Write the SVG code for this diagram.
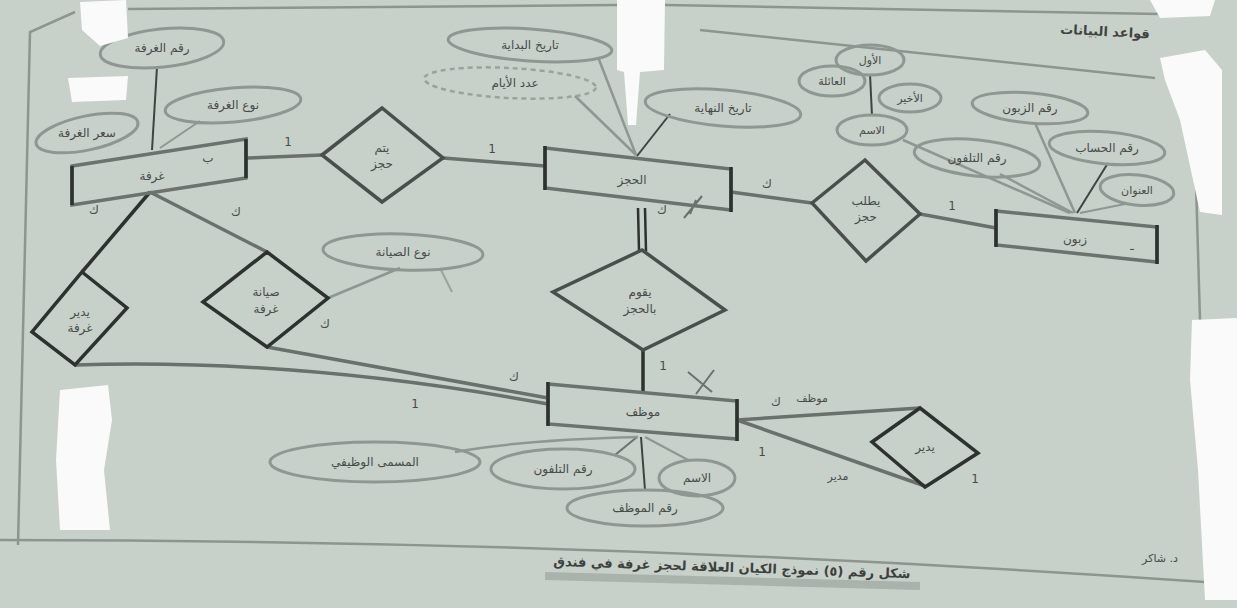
<svg xmlns="http://www.w3.org/2000/svg" width="1237" height="608" viewBox="0 0 1237 608">
<style>
.bg{fill:#c8d0ca}
.pg{fill:none;stroke:#8d958f;stroke-width:2.5}
.ent{fill:none;stroke:#6c726e;stroke-width:3.5}
.edge{stroke:#2e322f;stroke-width:3.5}
.rel{fill:none;stroke:#4a4f4c;stroke-width:3.5}
.att{fill:none;stroke:#8f9792;stroke-width:3}
.dash{fill:none;stroke:#9aa29d;stroke-width:2.5;stroke-dasharray:5 4}
.ln{fill:none;stroke:#6b716d;stroke-width:2}
.lnk{fill:none;stroke:#6a706c;stroke-width:3.5}
.t{font-family:"DejaVu Sans",sans-serif;font-size:12px;fill:#474c49;text-anchor:middle}
.tb{font-family:"DejaVu Sans",sans-serif;font-size:13px;fill:#3f4441;text-anchor:middle;font-weight:bold}
.c{font-family:"DejaVu Sans",sans-serif;font-size:13px;fill:#3c413e;text-anchor:middle}
.w{fill:#fafafa}
</style>
<rect class="bg" x="0" y="0" width="1237" height="608"/>

<g id="page">
<path class="pg" d="M75 12 L30 32 L18 545"/>
<path class="pg" d="M128 9 L617 5"/>
<path class="pg" d="M665 5 L1160 14"/>
<path class="pg" d="M700 30 L1155 78"/>
<path class="pg" d="M1193 80 L1200 320"/>
<path class="pg" d="M0 540 Q600 540 1205 582"/>
<text class="tb" x="1105" y="36" transform="rotate(3 1105 32)">قواعد البيانات</text>
</g>

<g id="connectors">
<line class="lnk" x1="247" y1="158" x2="322" y2="155"/>
<line class="lnk" x1="443" y1="158" x2="545" y2="166"/>
<line class="lnk" x1="731" y1="192" x2="812" y2="203"/>
<line class="lnk" x1="920" y1="214" x2="996" y2="228"/>
<line class="edge" x1="638" y1="208" x2="639" y2="251" style="stroke-width:2.5"/>
<line class="edge" x1="645" y1="208" x2="646" y2="251" style="stroke-width:2.5"/>
<line class="edge" x1="643" y1="350" x2="643" y2="392"/>
<line class="edge" x1="150" y1="192" x2="82" y2="272"/>
<line class="lnk" x1="150" y1="192" x2="267" y2="252"/>
<path class="lnk" d="M267 347 L548 398"/>
<path class="lnk" d="M75 365 Q300 358 548 404"/>
<line class="ln" x1="328" y1="298" x2="400" y2="268" style="stroke:#8f9792;stroke-width:2.5"/>
<path class="ln" d="M440 268 L452 292" style="stroke:#9aa29d"/>
<line class="lnk" x1="737" y1="420" x2="920" y2="408"/>
<line class="lnk" x1="737" y1="420" x2="925" y2="486"/>
<line class="ln" x1="157" y1="67" x2="152" y2="150" style="stroke:#3f4441"/>
<line class="ln" x1="200" y1="121" x2="160" y2="148" style="stroke:#8f9792"/>
<line class="ln" x1="598" y1="57" x2="636" y2="155" style="stroke:#8f9792;stroke-width:2.5"/>
<line class="ln" x1="575" y1="96" x2="636" y2="155" style="stroke:#8f9792;stroke-width:2.5"/>
<line class="ln" x1="670" y1="114" x2="637" y2="156" style="stroke:#3f4441"/>
<line class="ln" x1="1035" y1="123" x2="1075" y2="213" style="stroke:#8f9792;stroke-width:2.5"/>
<line class="ln" x1="1108" y1="163" x2="1077" y2="213" style="stroke:#3f4441"/>
<line class="ln" x1="1125" y1="204" x2="1080" y2="213" style="stroke:#8f9792"/>
<line class="ln" x1="1000" y1="174" x2="1073" y2="213" style="stroke:#8f9792;stroke-width:2.5"/>
<line class="ln" x1="903" y1="140" x2="1070" y2="213" style="stroke:#8f9792;stroke-width:2.5"/>
<line class="ln" x1="870" y1="74" x2="872" y2="116" style="stroke:#3f4441"/>
<line class="ln" x1="641" y1="437" x2="645" y2="490" style="stroke:#3f4441"/>
<line class="ln" x1="637" y1="437" x2="615" y2="455" style="stroke:#6b716d"/>
<line class="ln" x1="645" y1="437" x2="690" y2="461" style="stroke:#8f9792"/>
<path class="ln" d="M638 437 Q520 440 455 452" style="stroke:#8f9792;stroke-width:2.5"/>
<path class="ln" d="M684 218 L702 196 M696 200 L690 214" style="stroke:#6b716d"/>
<path class="ln" d="M688 372 L712 392 M714 370 L696 394" style="stroke:#6b716d"/>
</g>

<g id="cards">
<text class="t" x="288" y="146">1</text>
<text class="t" x="492" y="153">1</text>
<text class="t" x="767" y="188">ك</text>
<text class="t" x="952" y="210">1</text>
<text class="t" x="662" y="214">ك</text>
<text class="t" x="663" y="370">1</text>
<text class="t" x="94" y="214">ك</text>
<text class="t" x="236" y="216">ك</text>
<text class="t" x="514" y="381">ك</text>
<text class="t" x="415" y="408">1</text>
<text class="t" x="762" y="456">1</text>
<text class="t" x="975" y="483">1</text>
<text class="t" x="208" y="162">ب</text>
<text class="t" x="325" y="328">ك</text>
<text class="t" x="776" y="406">ك</text>
<text class="t" x="812" y="402" style="font-size:11px">موظف</text>
<text class="t" x="838" y="480" style="font-size:11px">مدير</text>
</g>

<g id="room">
<polygon class="ent" points="72,166 246,139 246,178 72,205"/>
<line class="edge" x1="72" y1="166" x2="72" y2="205"/>
<line class="edge" x1="246" y1="139" x2="246" y2="178"/>
<text class="t" x="152" y="180">غرفة</text>
</g>
<g id="booking">
<polygon class="ent" points="545,148 731,169 731,210 545,188"/>
<line class="edge" x1="545" y1="146" x2="545" y2="190"/>
<line class="edge" x1="731" y1="167" x2="731" y2="212"/>
<text class="t" x="632" y="184">الحجز</text>
</g>
<g id="customer">
<polygon class="ent" points="996,211 1157,227 1157,262 996,245"/>
<line class="edge" x1="996" y1="209" x2="996" y2="247"/>
<line class="edge" x1="1157" y1="225" x2="1157" y2="264"/>
<text class="t" x="1075" y="243">زبون</text>
<text class="t" x="1132" y="250">ـ</text>
</g>
<g id="employee">
<polygon class="ent" points="548,384 737,401 737,439 548,424"/>
<line class="edge" x1="548" y1="382" x2="548" y2="426"/>
<line class="edge" x1="737" y1="399" x2="737" y2="441"/>
<text class="t" x="643" y="416">موظف</text>
</g>

<g id="r-booked">
<polygon class="rel" points="322,155 382,108 443,158 382,202"/>
<text class="t" x="382" y="152">يتم</text>
<text class="t" x="382" y="168">حجز</text>
</g>
<g id="r-request">
<polygon class="rel" points="812,203 865,160 920,214 866,261"/>
<text class="t" x="866" y="205">يطلب</text>
<text class="t" x="866" y="221">حجز</text>
</g>
<g id="r-do">
<polygon class="rel" points="642,250 725,310 643,350 553,292"/>
<text class="t" x="640" y="296">يقوم</text>
<text class="t" x="640" y="313">بالحجز</text>
</g>
<g id="r-manage-room">
<polygon class="rel" points="82,272 127,308 75,365 32,332" style="stroke:#2e322f"/>
<text class="t" x="80" y="316">يدير</text>
<text class="t" x="80" y="332">غرفة</text>
</g>
<g id="r-maint">
<polygon class="rel" points="267,252 328,298 267,347 203,302" style="stroke:#2e322f"/>
<text class="t" x="266" y="296">صيانة</text>
<text class="t" x="266" y="313">غرفة</text>
</g>
<g id="r-manage">
<polygon class="rel" points="920,408 978,453 925,487 872,442" style="stroke:#2e322f"/>
<text class="t" x="925" y="451">يدير</text>
</g>

<g id="a-room-no"><ellipse class="att" cx="162" cy="48" rx="62" ry="19" transform="rotate(-6 162 48)"/><text class="t" x="162" y="52">رقم الغرفة</text></g>
<g id="a-room-type"><ellipse class="att" cx="233" cy="105" rx="68" ry="17" transform="rotate(-5 233 105)"/><text class="t" x="233" y="109">نوع الغرفة</text></g>
<g id="a-room-price"><ellipse class="att" cx="87" cy="133" rx="52" ry="17" transform="rotate(-12 87 133)"/><text class="t" x="87" y="137">سعر الغرفة</text></g>
<g id="a-start"><ellipse class="att" cx="530" cy="45" rx="82" ry="16" transform="rotate(4 530 45)"/><text class="t" x="530" y="49">تاريخ البداية</text></g>
<g id="a-days"><ellipse class="dash" cx="510" cy="83" rx="86" ry="15" transform="rotate(3 510 83)"/><text class="t" x="515" y="87">عدد الأيام</text></g>
<g id="a-end"><ellipse class="att" cx="723" cy="108" rx="78" ry="18" transform="rotate(5 723 108)"/><text class="t" x="723" y="112">تاريخ النهاية</text></g>
<g id="a-maint-type"><ellipse class="att" cx="403" cy="252" rx="80" ry="18" transform="rotate(2 403 252)"/><text class="t" x="403" y="256">نوع الصيانة</text></g>
<g id="a-first"><ellipse class="att" cx="870" cy="60" rx="34" ry="15"/><text class="t" x="870" y="64" style="font-size:11px">الأول</text></g>
<g id="a-family"><ellipse class="att" cx="832" cy="81" rx="33" ry="15"/><text class="t" x="832" y="85" style="font-size:11px">العائلة</text></g>
<g id="a-last"><ellipse class="att" cx="910" cy="98" rx="31" ry="14"/><text class="t" x="910" y="102" style="font-size:11px">الأخير</text></g>
<g id="a-cname"><ellipse class="att" cx="872" cy="130" rx="35" ry="15"/><text class="t" x="872" y="134" style="font-size:11px">الاسم</text></g>
<g id="a-cust-no"><ellipse class="att" cx="1030" cy="108" rx="58" ry="15" transform="rotate(5 1030 108)"/><text class="t" x="1030" y="112">رقم الزبون</text></g>
<g id="a-cust-acc"><ellipse class="att" cx="1107" cy="148" rx="58" ry="16" transform="rotate(5 1107 148)"/><text class="t" x="1107" y="152">رقم الحساب</text></g>
<g id="a-cust-tel"><ellipse class="att" cx="977" cy="158" rx="63" ry="18" transform="rotate(6 977 158)"/><text class="t" x="977" y="162">رقم التلفون</text></g>
<g id="a-cust-addr"><ellipse class="att" cx="1137" cy="190" rx="37" ry="15" transform="rotate(6 1137 190)"/><text class="t" x="1137" y="194" style="font-size:11px">العنوان</text></g>
<g id="a-title"><ellipse class="att" cx="375" cy="462" rx="105" ry="20"/><text class="t" x="375" y="466">المسمى الوظيفي</text></g>
<g id="a-emp-tel"><ellipse class="att" cx="563" cy="469" rx="72" ry="20"/><text class="t" x="563" y="473">رقم التلفون</text></g>
<g id="a-emp-name"><ellipse class="att" cx="697" cy="478" rx="38" ry="18"/><text class="t" x="697" y="482">الاسم</text></g>
<g id="a-emp-no"><ellipse class="att" cx="645" cy="508" rx="78" ry="18"/><text class="t" x="645" y="512">رقم الموظف</text></g>

<g id="caption">
<path d="M545 572 L920 582 L920 590 L545 580 Z" fill="#aab2ac"/>
<text class="c" x="732" y="572" transform="rotate(2 732 568)" style="font-weight:bold">شكل رقم (٥) نموذج الكيان العلاقة لحجز غرفة في فندق</text>
<text class="t" x="1160" y="562" style="font-size:11px">د. شاكر</text>
</g>

<g id="glare">
<path class="w" d="M80 2 L126 0 L128 38 L100 46 L82 30 Z"/>
<path class="w" d="M68 78 L128 76 L126 100 L72 102 Z"/>
<path class="w" d="M617 0 L665 0 L664 70 L640 72 L636 125 L628 125 L624 72 L617 70 Z"/>
<path class="w" d="M1150 0 L1215 0 L1210 16 L1160 18 Z"/>
<path class="w" d="M1160 58 L1205 50 L1222 70 L1222 215 L1200 212 L1180 120 L1165 80 Z"/>
<path class="w" d="M1192 320 L1237 318 L1237 600 L1205 600 L1198 470 L1190 380 Z"/>
<path class="w" d="M60 390 L108 385 L112 420 L104 470 L110 530 L60 530 L56 460 Z"/>
</g>
</svg>
